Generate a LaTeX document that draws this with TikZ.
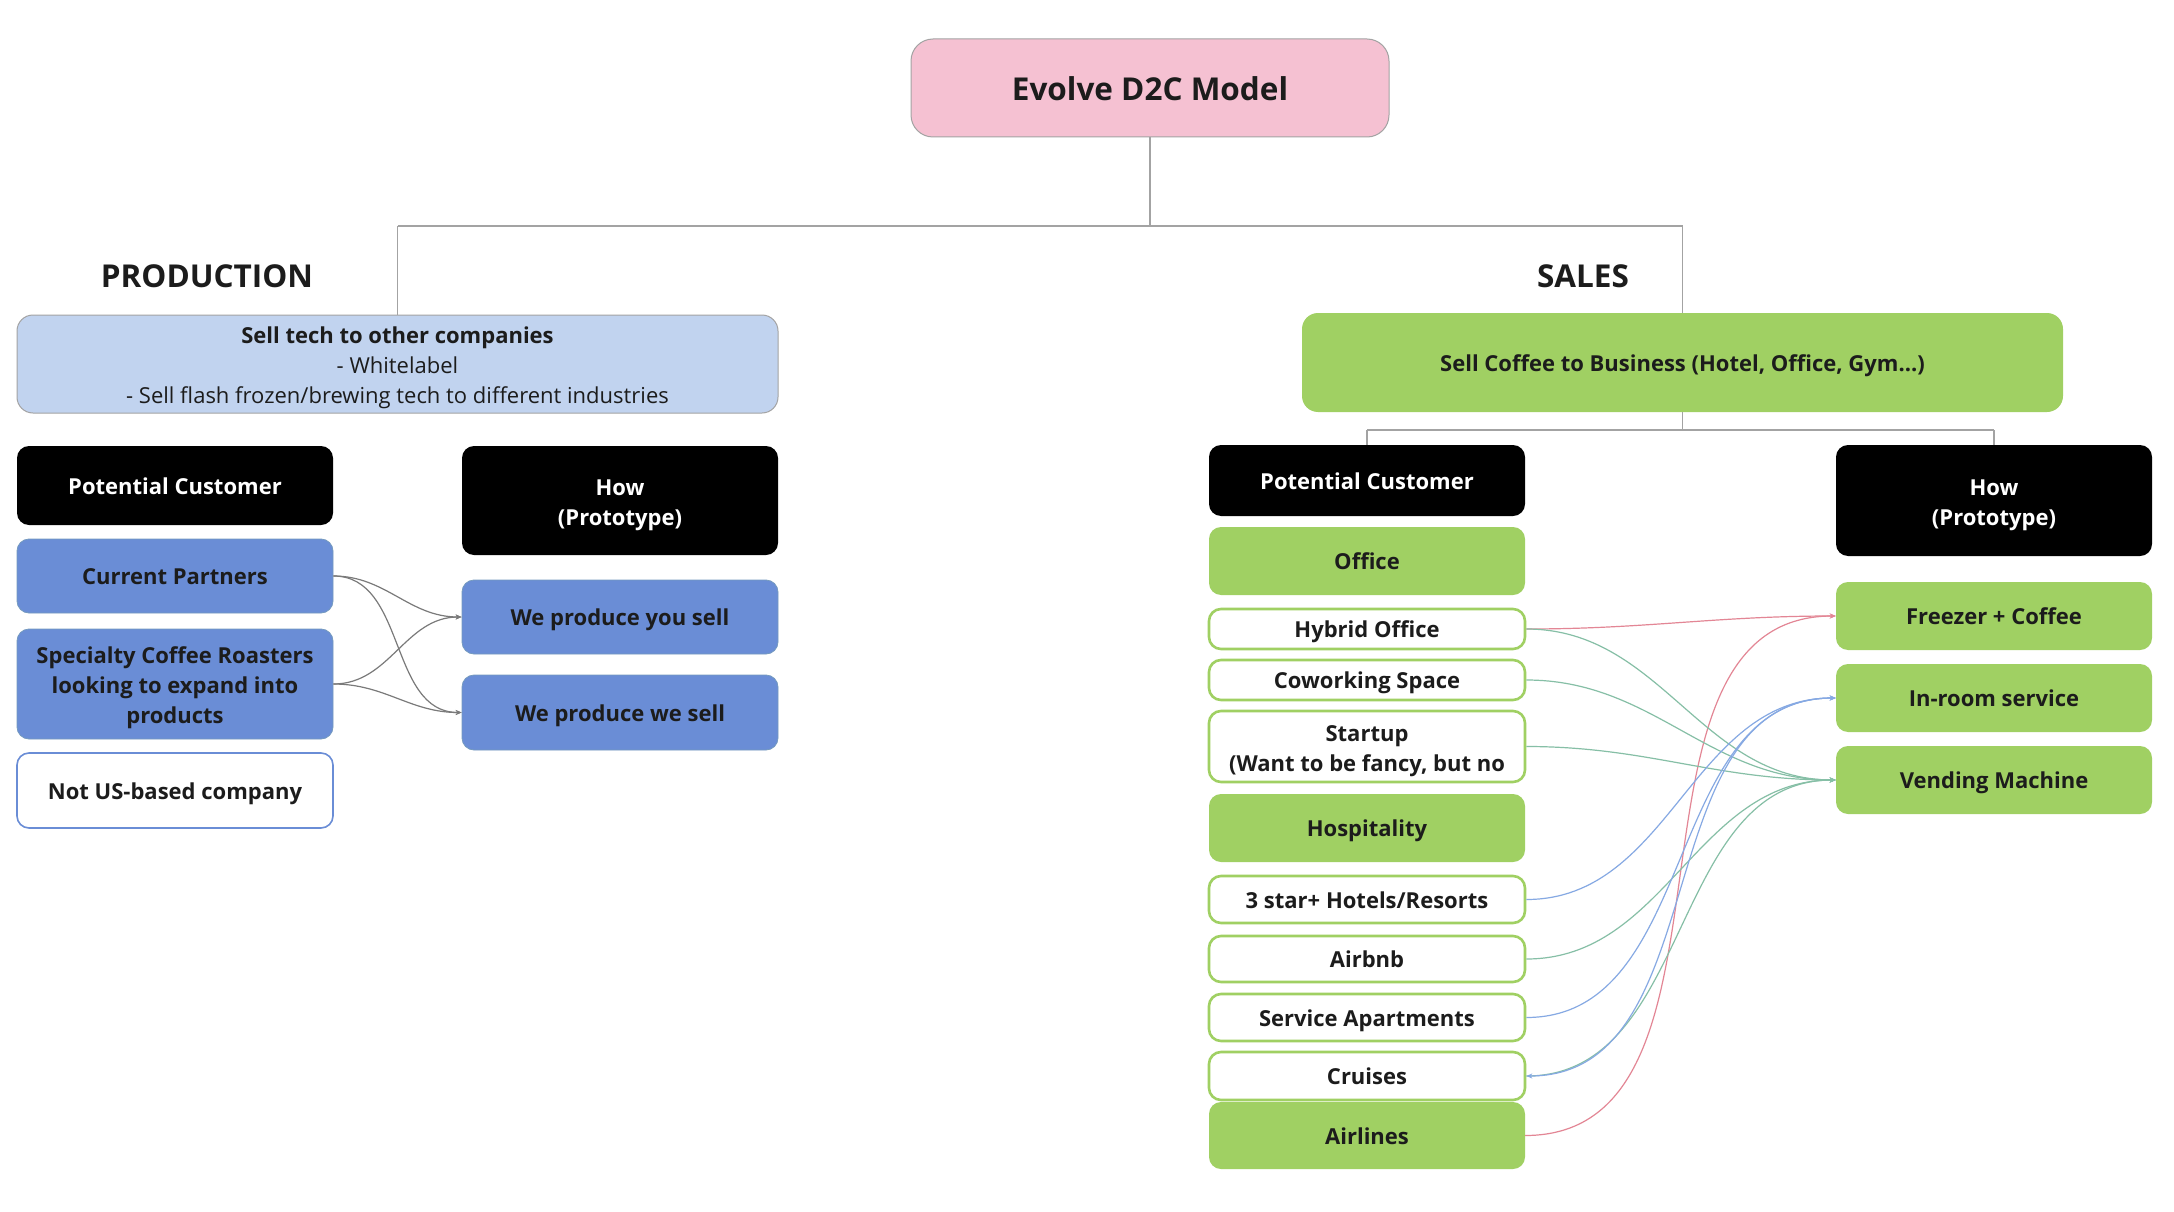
\documentclass[tikz,border=0pt]{standalone}
\usepackage{fontspec}
\setmainfont{Open Sans}
\usetikzlibrary{arrows.meta}
\definecolor{pinkfill}{HTML}{F5C1D2}
\definecolor{bluelight}{HTML}{C1D3EF}
\definecolor{greenfill}{HTML}{A0D063}
\definecolor{bluemed}{HTML}{6A8DD6}
\definecolor{txt}{HTML}{1C1C1C}
\definecolor{treeline}{HTML}{A3A3A3}
\definecolor{cred}{HTML}{E38695}
\definecolor{cblue}{HTML}{86A9E3}
\definecolor{cteal}{HTML}{86BFA6}
\definecolor{cgray}{HTML}{7A7A7A}
\newcommand\linestrut{\rule[-0.293em]{0pt}{1.362em}}
\newcommand\ml[1]{\raisebox{-3.5pt}[\height][\depth]{\begin{tabular}{@{}c@{}}#1\end{tabular}}}
\tikzset{
  box/.style={rounded corners=12pt, minimum width=316pt, inner sep=0pt, align=center,
    font=\bfseries\fontsize{22}{30}\selectfont, text=txt,
    execute at begin node=\linestrut, execute at end node=\linestrut},
  blackbox/.style={box, fill=black, text=white},
  bluebox/.style={box, fill=bluemed, draw=bluemed!80!greenfill, line width=0.8pt},
  greenbox/.style={box, fill=greenfill},
  gwhite/.style={box, fill=white, draw=greenfill, line width=2.6pt},
  bwhite/.style={box, fill=white, draw=bluemed, line width=1.6pt},
  tree/.style={draw=treeline, line width=1.3pt},
  conn/.style={line width=1.2pt, -{Stealth[length=6pt,width=5pt]}},
  heading/.style={font=\bfseries\fontsize{31.5}{36}\selectfont, text=txt, inner sep=0pt,
    execute at begin node=\linestrut}
}
\begin{document}
\begin{tikzpicture}[x=1pt,y=-1pt]
\fill[white] (0,0) rectangle (2174,1212);
\useasboundingbox (0,0) rectangle (2174,1212);

% title
\node[rounded corners=22pt, fill=pinkfill, draw=treeline, line width=1pt, minimum width=478pt, minimum height=98pt,
  inner sep=0pt, font=\bfseries\fontsize{31.5}{36}\selectfont, text=txt,
  execute at begin node=\linestrut] (title) at (1150,88) {Evolve D2C Model};

\node[heading] (prod) at (207,275) {PRODUCTION};
\node[heading] (sales) at (1583,275) {SALES};

\node[rounded corners=16pt, fill=bluelight, draw=treeline, line width=1pt, minimum width=761pt, minimum height=98pt,
  inner sep=0pt, text=txt, font=\fontsize{22}{30}\selectfont] (tech) at (397.5,364)
  {\ml{\textbf{Sell tech to other companies}\\- Whitelabel\\- Sell flash frozen/brewing tech to different industries}};
\node[rounded corners=16pt, fill=greenfill, minimum width=761pt, minimum height=99pt,
  inner sep=0pt, text=txt, font=\bfseries\fontsize{22}{30}\selectfont,
  execute at begin node=\linestrut] (coffee) at (1682.5,362.5)
  {Sell Coffee to Business (Hotel, Office, Gym...)};

\coordinate (tj) at (1150,226);
\coordinate (tl) at (397.5,226);
\coordinate (tr) at (1682.5,226);
\draw[tree] (title.south) -- (tj);
\draw[tree] (tl) -- (tr);
\draw[tree] (tl) -- (tech.north);
\draw[tree] (tr) -- (coffee.north);

% left column
\node[blackbox, minimum height=79pt] (lpc) at (175,485.5) {Potential Customer};
\node[blackbox, minimum height=109pt] (lhow) at (620,500.5) {\ml{How\\(Prototype)}};
\node[bluebox, minimum height=74pt] (lcp) at (175,576) {Current Partners};
\node[bluebox, minimum height=110pt] (lscr) at (175,684) {\ml{Specialty Coffee Roasters\\looking to expand into\\products}};
\node[bwhite, minimum height=75pt] (lnus) at (175,790.5) {Not US-based company};
\node[bluebox, minimum height=74pt] (lwpys) at (620,617) {We produce you sell};
\node[bluebox, minimum height=75pt] (lwpws) at (620,712.5) {We produce we sell};

\draw[conn, draw=cgray] (lcp.east) to[out=0,in=180] (lwpys.west);
\draw[conn, draw=cgray] (lcp.east) to[out=0,in=180] (lwpws.west);
\draw[conn, draw=cgray] (lscr.east) to[out=0,in=180] (lwpys.west);
\draw[conn, draw=cgray] (lscr.east) to[out=0,in=180] (lwpws.west);

% right column
\coordinate (sj) at (1682.5,430);
\coordinate (sl) at (1367,430);
\coordinate (sr) at (1994,430);
\node[blackbox, minimum height=71pt] (rpc) at (1367,480.5) {Potential Customer};
\node[blackbox, minimum height=111pt] (rhow) at (1994,500.5) {\ml{How\\(Prototype)}};
\draw[tree] (coffee.south) -- (sj);
\draw[tree] (sl) -- (sr);
\draw[tree] (sl) -- (rpc.north);
\draw[tree] (sr) -- (rhow.north);

\node[greenbox, minimum height=68pt] (office) at (1367,561) {Office};
\node[gwhite, minimum height=40pt] (hybrid) at (1367,629) {Hybrid Office};
\node[gwhite, minimum height=40pt] (cowork) at (1367,680) {Coworking Space};
\node[gwhite, minimum height=71pt] (startup) at (1367,746.5) {\ml{Startup\\(Want to be fancy, but no}};
\node[greenbox, minimum height=68pt] (hosp) at (1367,828) {Hospitality};
\node[gwhite, minimum height=47pt] (hotels) at (1367,899.5) {3 star+ Hotels/Resorts};
\node[gwhite, minimum height=46pt] (airbnb) at (1367,959) {Airbnb};
\node[gwhite, minimum height=47pt] (servapt) at (1367,1017.5) {Service Apartments};
\node[gwhite, minimum height=48pt] (cruises) at (1367,1076) {Cruises};
\node[greenbox, minimum height=67pt] (airlines) at (1367,1135.5) {Airlines};

\node[greenbox, minimum height=68pt] (freezer) at (1994,616) {Freezer + Coffee};
\node[greenbox, minimum height=68pt] (inroom) at (1994,698) {In-room service};
\node[greenbox, minimum height=68pt] (vending) at (1994,780) {Vending Machine};

\draw[conn, draw=cred] (hybrid.east) to[out=0,in=180] (freezer.west);
\draw[conn, draw=cred] (airlines.east) to[out=0,in=180] (freezer.west);
\draw[conn, draw=cteal] (hybrid.east) to[out=0,in=180] (vending.west);
\draw[conn, draw=cteal] (cowork.east) to[out=0,in=180] (vending.west);
\draw[conn, draw=cteal] (startup.east) to[out=0,in=180] (vending.west);
\draw[conn, draw=cteal] (airbnb.east) to[out=0,in=180] (vending.west);
\draw[conn, draw=cteal] (cruises.east) to[out=0,in=180] (vending.west);
\draw[conn, draw=cblue] (hotels.east) to[out=0,in=180] (inroom.west);
\draw[conn, draw=cblue] (servapt.east) to[out=0,in=180] (inroom.west);
\draw[conn, draw=cblue, {Stealth[length=6pt,width=5pt]}-{Stealth[length=6pt,width=5pt]}] (cruises.east) to[out=0,in=180] (inroom.west);
\end{tikzpicture}
\end{document}
